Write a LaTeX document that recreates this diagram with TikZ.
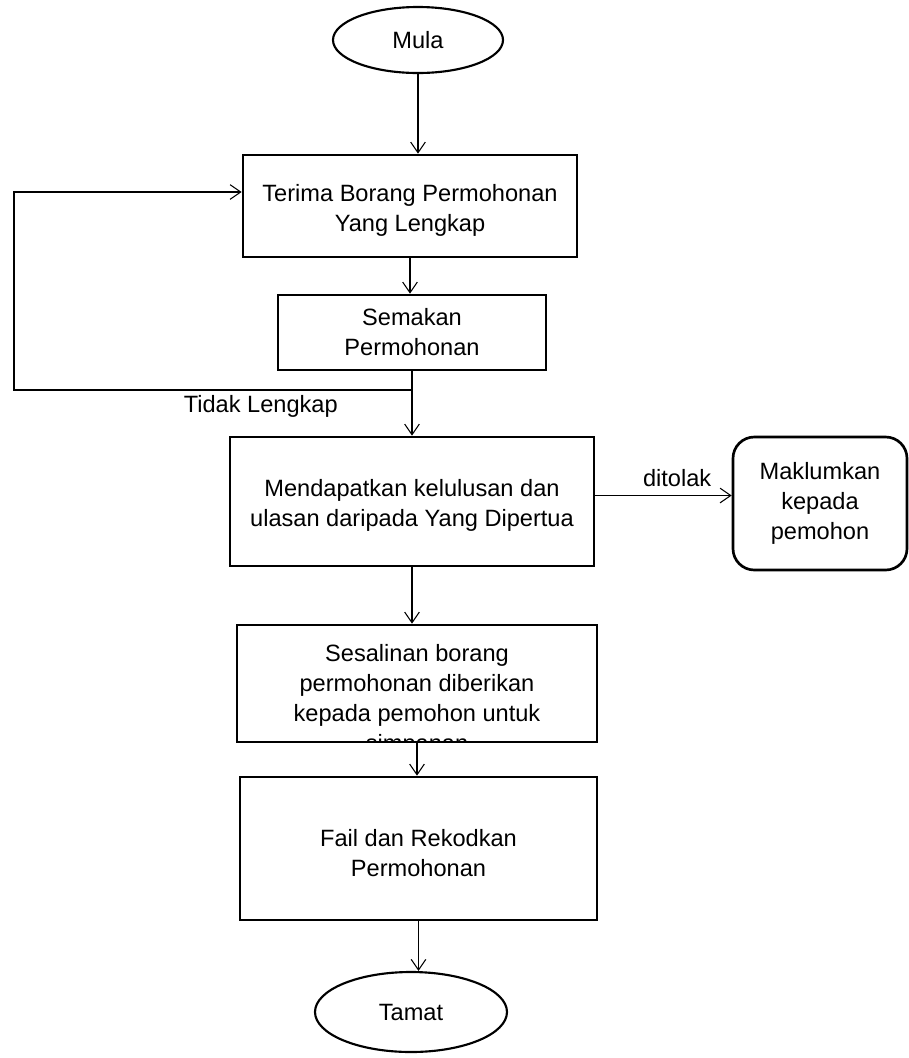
\documentclass[tikz,border=0pt]{standalone}
\usepackage{fontspec}
\setmainfont{Liberation Sans}
\usetikzlibrary{arrows.meta, shapes.geometric}

\begin{document}
\begin{tikzpicture}[x=0.75pt, y=-0.75pt,
    every node/.style={font=\fontsize{17.7}{22.5}\selectfont},
    box/.style={draw, line width=2pt, align=center, inner sep=2pt},
    term/.style={ellipse, draw, line width=1.6pt, inner sep=0pt},
    line/.style={line width=0.8pt, -{Straight Barb[length=8pt, width=11pt]}}]
        \useasboundingbox (0,0) rectangle (909,1058);

        % Flowchart
        \node[term, minimum width=127.5pt, minimum height=49.5pt] (mula) at (418,40) {Mula};
        \node[box, minimum width=250.5pt, minimum height=76.5pt] (terima) at (410,206) {\rule{0pt}{20pt}Terima Borang Permohonan\\Yang Lengkap};
        \node[box, minimum width=201pt, minimum height=56.25pt] (semak) at (412,332.5) {Semakan\\Permohonan};
        \node[box, minimum width=273pt, minimum height=96.75pt] (lulus) at (412,501.5) {\rule{0pt}{18pt}Mendapatkan kelulusan dan\\ulasan daripada Yang Dipertua};
        \node[box, rounded corners=16pt, minimum width=130.5pt, minimum height=99.75pt] (maklum) at (820,503.5) {Maklumkan\\kepada\\pemohon};
        \node[box, minimum width=270pt, minimum height=87.75pt,
              path picture={\node[yshift=-13pt, align=center] at (path picture bounding box.center)
              {Sesalinan borang\\permohonan diberikan\\kepada pemohon untuk\\simpanan};}] (salin) at (417,683.5) {};
        \node[box, minimum width=267.75pt, minimum height=107.25pt] (fail) at (418.5,848.5) {\rule{0pt}{20pt}Fail dan Rekodkan\\Permohonan};
        \node[term, minimum width=144pt, minimum height=60pt] (tamat) at (411,1012) {Tamat};

        \coordinate (fork) at (412,390);
        \coordinate (loop) at (14,390);

        \draw[line] (mula.south) -- (mula.south |- terima.north);
        \draw[line] (terima.south) -- (terima.south |- semak.north);
        \draw[line] (semak.south) -- (semak.south |- lulus.north);
        \draw[line] (fork) -- node[below, pos=0.38] {Tidak Lengkap} (loop) |- ([yshift=10.5pt]terima.west);
        \draw[line] ([yshift=4.5pt]lulus.east) -- node[above, pos=0.6, yshift=3pt] {ditolak} ([yshift=4.5pt]lulus.east -| maklum.west);
        \draw[line] (lulus.south) -- (lulus.south |- salin.north);
        \draw[line] (salin.south) -- (salin.south |- fail.north);
        \draw[line] (fail.south) -- (fail.south |- tamat.north);
    \end{tikzpicture}
\end{document}
